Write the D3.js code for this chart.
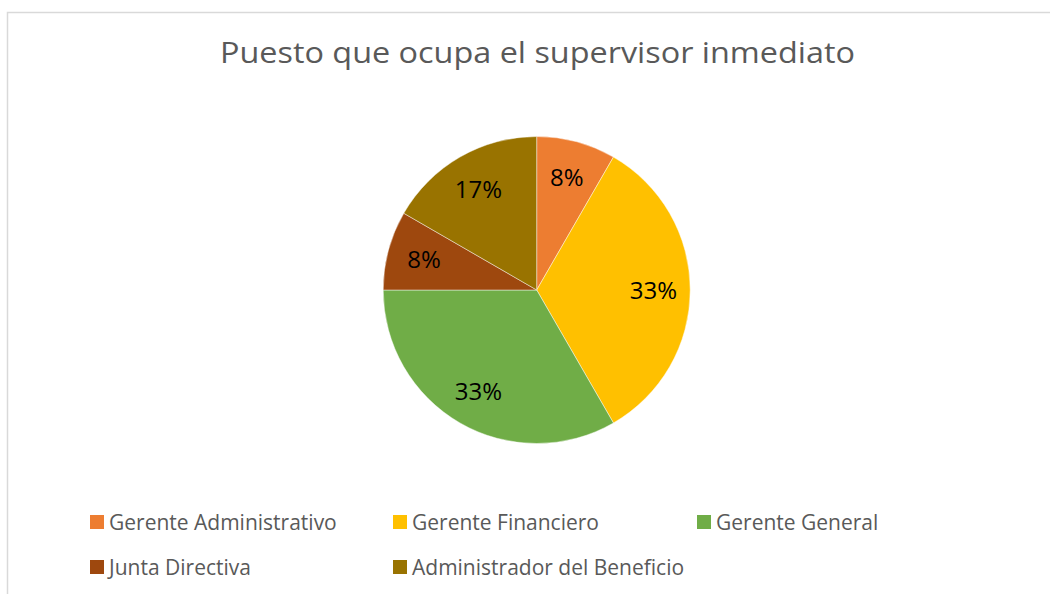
<!DOCTYPE html>
<html>
<head>
<meta charset="utf-8">
<script src="https://cdn.jsdelivr.net/npm/d3@7"></script>
<style>
  body { margin: 0; background: #fff; }
  svg { display: block; }
</style>
</head>
<body>
<svg id="chart" width="1050" height="594"></svg>
<script>
// data (counts out of 12 answers)
const categories = ["Gerente Administrativo", "Gerente Financiero", "Gerente General", "Junta Directiva", "Administrador del Beneficio"];
const values = [1, 4, 4, 1, 2];
const colors = ["#ED7D31", "#FFC000", "#70AD47", "#9E480E", "#997300"];
const title = "Puesto que ocupa el supervisor inmediato";

const svg = d3.select("#chart");
const fontFam = "'Open Sans', 'Noto Sans', sans-serif";

// chart area frame (only left and top edges visible in the window)
svg.append("rect")
    .attr("x", 7.5).attr("y", 12.5)
    .attr("width", 1100).attr("height", 700)
    .attr("fill", "#fff")
    .attr("stroke", "#d9d9d9")
    .attr("stroke-width", 1.5);

const titleText = svg.append("text")
    .attr("x", 537.5).attr("y", 63)
    .attr("text-anchor", "middle")
    .attr("font-family", fontFam)
    .attr("font-size", 29.5)
    .attr("fill", "#595959")
    .text(title);
// Calibri in the original is narrower, squeeze to its width
titleText.attr("textLength", 635).attr("lengthAdjust", "spacingAndGlyphs");

const cx = 536.7, cy = 290, R = 153.5;
const total = d3.sum(values);

const pie = d3.pie().sort(null).value(d => d)(values);
const arc = d3.arc().innerRadius(0).outerRadius(R);
const labelArc = d3.arc().innerRadius(R * 0.76).outerRadius(R * 0.76);

const g = svg.append("g").attr("transform", `translate(${cx},${cy})`);

g.selectAll("path.slice")
    .data(pie)
    .join("path")
    .attr("class", "slice")
    .attr("d", arc)
    .attr("fill", (d, i) => colors[i])
    .attr("stroke", "#ffffff")
    .attr("stroke-opacity", 0.6)
    .attr("stroke-width", 0.75);

const fmt = d3.format(".0%");
g.selectAll("text.lbl")
    .data(pie)
    .join("text")
    .attr("class", "lbl")
    .attr("transform", d => `translate(${labelArc.centroid(d)})`)
    .attr("text-anchor", "middle")
    .attr("dy", "0.36em")
    .attr("font-family", fontFam)
    .attr("font-size", 24)
    .attr("fill", "#000")
    .text(d => fmt(d.data / total));

// legend: 3 per row
const legX = [90, 393, 697];
const legY = [515, 560];
const leg = svg.append("g").selectAll("g")
    .data(categories)
    .join("g")
    .attr("transform", (d, i) => `translate(${legX[i % 3]},${legY[Math.floor(i / 3)]})`);

leg.append("rect")
    .attr("width", 14).attr("height", 14)
    .attr("fill", (d, i) => colors[i]);

leg.append("text")
    .attr("x", 19).attr("y", 14.5)
    .attr("font-family", fontFam)
    .attr("font-size", 21)
    .attr("fill", "#595959")
    .text(d => d);
</script>
</body>
</html>
